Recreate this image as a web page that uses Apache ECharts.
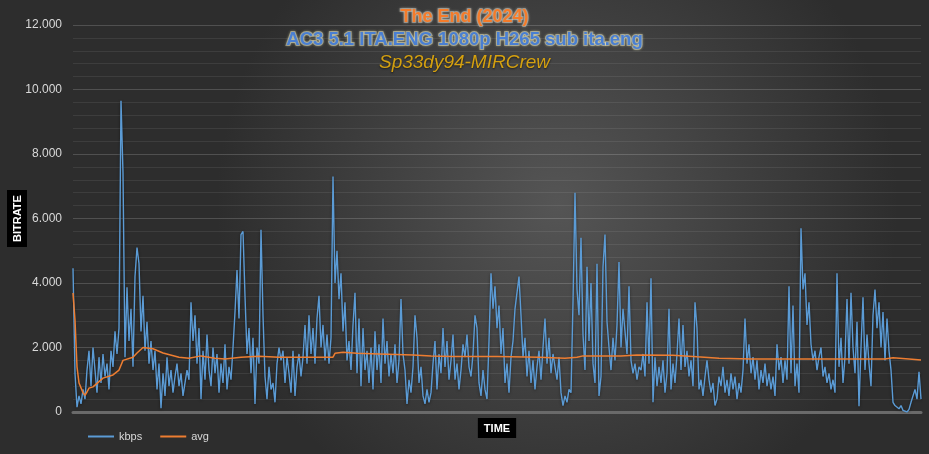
<!DOCTYPE html>
<html>
<head>
<meta charset="utf-8">
<script src="https://cdn.jsdelivr.net/npm/echarts@6/dist/echarts.min.js"></script>
<style>html,body{margin:0;padding:0;background:#333;}#c{width:929px;height:454px;}</style>
</head>
<body>
<div id="c"></div>
<script>
const titleLines = ["The End (2024)", "AC3 5.1 ITA.ENG 1080p H265 sub ita.eng", "Sp33dy94-MIRCrew"];
const seriesNames = ["kbps", "avg"];
const yTicks = [0, 2000, 4000, 6000, 8000, 10000, 12000];
const kbps = [
4460,1200,150,500,250,700,400,1300,1900,800,
2000,1300,600,1700,900,1800,1100,1500,700,1900,
1400,2500,1800,2600,9650,7400,1700,3870,2200,3200,
1400,4200,5100,4600,2500,3600,1900,2800,1500,2200,
1300,1900,700,1500,120,1200,500,1700,800,1300,
600,1100,1500,800,1200,500,900,1300,1000,3400,
2200,3000,1500,2600,400,1900,1000,2400,1300,800,
2000,1200,1800,600,1500,900,2100,700,1400,1000,
2000,3100,4400,2900,5500,5600,3600,1800,2600,1200,
2300,250,2000,1500,5650,3000,1100,400,1400,700,
900,300,1500,2000,1600,1900,900,1700,1200,600,
1900,500,1400,1800,1100,1700,2700,1500,3000,1800,
2600,1500,2900,3600,2000,2700,1600,2400,1500,2300,
7300,4000,5000,3500,4300,2500,3400,1600,2200,1300,
2700,3700,1200,2900,800,2600,1300,1900,900,2000,
700,2500,1300,2100,900,2900,1500,2200,1100,1800,
1200,2100,900,1600,3500,1800,1300,250,1000,600,
1400,3000,2300,900,1400,500,250,700,300,600,
1500,2200,700,1800,1200,2600,1400,2200,1000,1600,
2400,1000,1500,700,1300,2100,1700,2400,1400,1100,
1800,3000,2600,900,500,1300,700,400,2200,4300,
3200,3900,2600,3300,1800,2600,900,1500,600,1700,
2200,3200,3700,4200,3000,1700,2300,1100,1900,900,
1600,700,1400,1900,1000,2000,2900,1500,2300,1200,
1800,1400,1000,1700,600,200,500,300,700,600,
3400,6800,3800,3000,5400,2400,1300,4500,2200,4000,
1500,900,4600,500,1100,4500,5500,2800,2000,1300,
2300,1600,2700,4650,2000,3200,2500,1800,3900,1600,
1200,1500,1000,1400,1300,1800,1100,3400,1500,4150,
300,1700,800,1400,900,1600,600,1200,3200,700,
1500,900,1800,2900,1300,2700,1400,1900,1100,1600,
800,3400,2600,700,1000,500,1100,1600,1000,600,
900,200,400,1100,800,1400,600,1000,500,1200,
700,1100,400,900,600,1300,2900,1500,2100,1200,
1700,1000,1600,700,1300,900,1500,800,1200,700,
1100,500,2100,1300,1700,900,1600,1000,3900,1200,
3300,800,1500,600,5700,3800,4300,2700,3400,2100,
1600,1900,1300,1700,2000,1100,1400,900,1200,700,
1000,600,4300,1400,2300,900,1700,3500,1500,3700,
2000,1200,2800,180,2000,3560,1300,2400,1500,800,
3000,3800,2600,3400,2000,3100,1600,2900,1900,1300,
300,200,250,100,200,50,100,0,80,300,
500,700,400,1250,400
];
const avgIndex = [0,1,2,3,5,6,7,8,10,15,20,23,25,30,32,35,40,45,53,58,64,71,76,84,93,103,123,130,131,135,142,153,170,179,190,212,233,246,252,255,274,275,282,300,312,323,339,406,407,410,411,418,419,424];
const avgValue = [3690,2850,1400,900,600,520,620,740,780,1050,1150,1300,1600,1700,1830,2000,1960,1830,1700,1670,1740,1670,1640,1700,1730,1700,1700,1700,1820,1850,1820,1800,1770,1740,1720,1720,1700,1670,1700,1740,1740,1770,1770,1760,1710,1670,1640,1640,1680,1680,1640,1640,1610,1610];

const chart = echarts.init(document.getElementById('c'));
const fmt = v => String(v).replace(/\B(?=(\d{3})+(?!\d))/g, '.');
const titleFont = 'Liberation Sans';
chart.setOption({
  animation: false,
  backgroundColor: {
    type: 'radial', x: 0.6, y: 0.45, r: 0.75,
    colorStops: [{offset: 0, color: '#555555'}, {offset: 1, color: '#2d2d2d'}]
  },
  title: [
    {text: titleLines[0], left: 'center', top: 3, textStyle: {fontFamily: titleFont, fontWeight: 'bold', fontSize: 18, color: '#f47b2a', textBorderColor: 'rgba(255,240,225,0.35)', textBorderWidth: 2, textShadowColor: 'rgba(255,255,235,0.55)', textShadowBlur: 3}},
    {text: titleLines[1], left: 'center', top: 25, textStyle: {fontFamily: titleFont, fontWeight: 'bold', fontSize: 18.5, color: '#4a7fd2', textBorderColor: 'rgba(255,255,225,0.4)', textBorderWidth: 2, textShadowColor: 'rgba(255,255,200,0.55)', textShadowBlur: 3}},
    {text: titleLines[2], left: 'center', top: 48, textStyle: {fontFamily: titleFont, fontStyle: 'italic', fontWeight: 'normal', fontSize: 19, color: '#d4a010', textShadowColor: 'rgba(0,0,0,0.6)', textShadowBlur: 2, textShadowOffsetY: 1}}
  ],
  legend: {
    left: 83, bottom: 7, icon: 'rect', itemWidth: 26, itemHeight: 2, itemGap: 18,
    textStyle: {color: '#d9d9d9', fontSize: 11, fontFamily: 'Liberation Sans'},
    data: seriesNames
  },
  grid: {left: 73, right: 8, top: 25, bottom: 42, outerBoundsMode: 'none', containLabel: false},
  xAxis: {
    type: 'value', min: 0, max: kbps.length - 1,
    name: 'TIME', nameLocation: 'middle', nameGap: 6, nameMoveOverlap: false,
    nameTextStyle: {color: '#ffffff', fontWeight: 'bold', fontSize: 11, fontFamily: 'Liberation Sans', backgroundColor: '#000000', padding: [5, 6, 4, 6]},
    axisLine: {show: true, lineStyle: {color: '#6a6a6a', width: 3}},
    axisTick: {show: false}, axisLabel: {show: false}, splitLine: {show: false}
  },
  yAxis: {
    type: 'value', min: yTicks[0], max: yTicks[yTicks.length - 1], interval: 2000,
    name: 'BITRATE', nameLocation: 'middle', nameGap: 46, nameRotate: 90, nameMoveOverlap: false,
    nameTextStyle: {color: '#ffffff', fontWeight: 'bold', fontSize: 11, fontFamily: 'Liberation Sans', backgroundColor: '#000000', padding: [5, 5, 4, 5]},
    axisLine: {show: false}, axisTick: {show: false},
    axisLabel: {color: '#d9d9d9', fontSize: 12, fontFamily: 'Liberation Sans', margin: 11, formatter: v => fmt(v)},
    splitLine: {lineStyle: {color: 'rgba(255,255,255,0.17)', width: 1}},
    minorSplitLine: {show: true, lineStyle: {color: 'rgba(255,255,255,0.08)', width: 1}},
    minorTick: {show: false, splitNumber: 5}
  },
  series: [
    {name: seriesNames[0], type: 'line', symbol: 'none', data: kbps.map((v, i) => [i, v]),
     lineStyle: {color: '#5b9bd5', width: 1.4, shadowColor: 'rgba(0,0,0,0.45)', shadowBlur: 3, shadowOffsetY: 1}, itemStyle: {color: '#5b9bd5'}},
    {name: seriesNames[1], type: 'line', symbol: 'none', data: avgIndex.map((x, i) => [x, avgValue[i]]),
     lineStyle: {color: '#ed7d31', width: 1.5}, itemStyle: {color: '#ed7d31'}, z: 3}
  ]
});
</script>
</body>
</html>
